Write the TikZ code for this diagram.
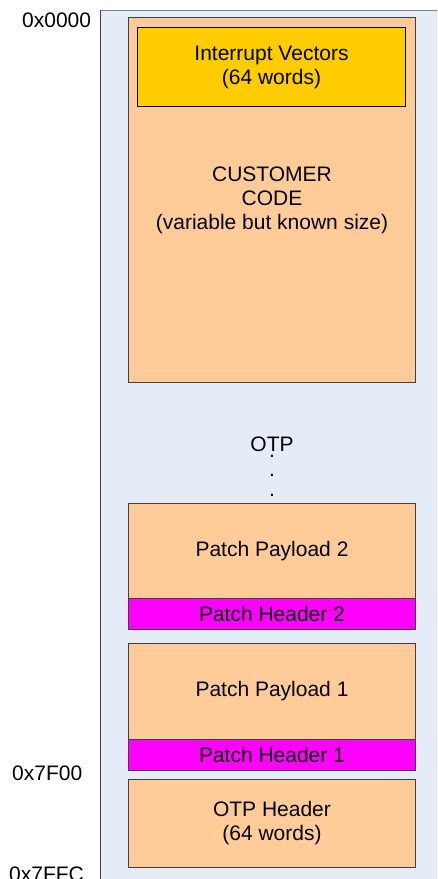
\documentclass[tikz,border=0pt]{standalone}
\usepackage{fontspec}
\setmainfont{Liberation Sans}
\definecolor{bgblue}{HTML}{E6ECF7}
\definecolor{peach}{HTML}{FFCC99}
\definecolor{gold}{HTML}{FFCC00}
\definecolor{mag}{HTML}{FF00FF}
\definecolor{edge}{HTML}{404040}
\begin{document}
\begin{tikzpicture}[x=1pt,y=-1pt,
  blk/.style={draw=edge, line width=1pt, inner sep=0pt, anchor=north west, minimum width=287pt,
    font=\fontsize{21}{24}\selectfont, align=center},
  lbl/.style={font=\fontsize{21}{24}\selectfont, align=center, inner sep=0pt}]
\useasboundingbox (0,0) rectangle (437,879);
\clip (0,0) rectangle (437,879);
\fill[bgblue] (100,10) rectangle (460,900);
\draw[gray, line width=1pt] (100,900) -- (100,10) -- (460,10);
\draw[edge, line width=1pt] (100,10) -- (100,900);
% customer code
\node[blk, fill=peach, minimum height=365pt] (cc) at (128,17) {CUSTOMER\\CODE\\(variable but known size)};
\node[blk, draw=black, fill=gold, minimum width=268pt, minimum height=79pt] (ivt) at (137,27) {Interrupt Vectors\\(64 words)};
% OTP
\node[lbl] (otp) at (272,444) {OTP};
\node[lbl, anchor=base] (d1) at (272,457.5) {.};
\node[lbl, anchor=base] (d2) at (272,476.5) {.};
\node[lbl, anchor=base] (d3) at (272,496.5) {.};
% patches
\node[blk, fill=peach, minimum height=95pt] (pp2) at (128,503) {Patch Payload 2};
\node[blk, fill=mag, minimum height=31pt] (ph2) at (128,598) {Patch Header 2};
\node[blk, fill=peach, minimum height=96pt] (pp1) at (128,643) {Patch Payload 1};
\node[blk, fill=mag, minimum height=31pt] (ph1) at (128,739) {Patch Header 1};
\node[blk, fill=peach, minimum height=88pt] (otph) at (128,779) {OTP Header\\(64 words)};
% addresses
\node[lbl, anchor=base west] (a0) at (22,27) {0x0000};
\node[lbl, anchor=base west] (a1) at (12,780) {0x7F00};
\node[lbl, anchor=base west] (a2) at (9,881) {0x7FFC};
\end{tikzpicture}
\end{document}
